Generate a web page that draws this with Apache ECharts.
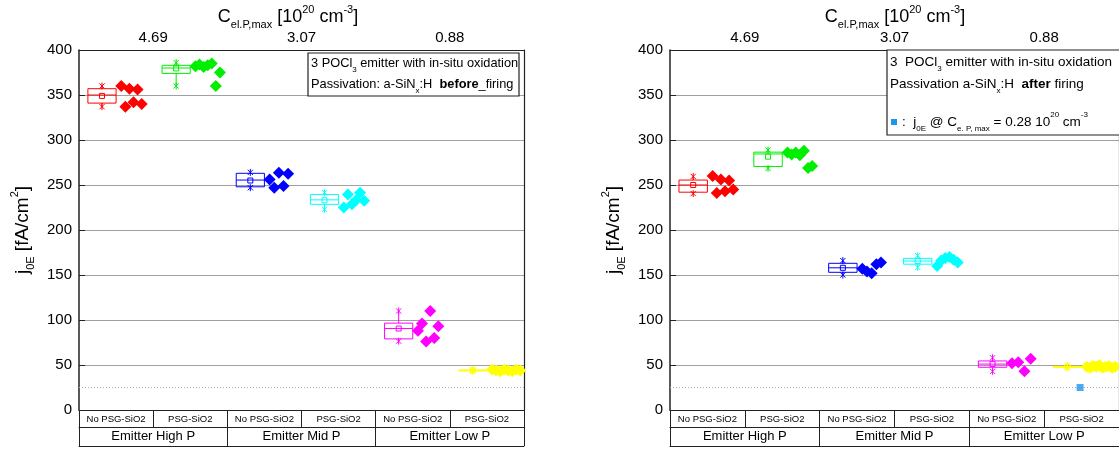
<!DOCTYPE html>
<html><head><meta charset="utf-8">
<script src="https://cdn.jsdelivr.net/npm/echarts@6/dist/echarts.min.js"></script>
<style>html,body{margin:0;padding:0;background:#fff}#c{width:1119px;height:450px}</style>
</head><body><div id="c"></div>
<script>
// ---------- DATA ----------
const subLabels = ['No PSG-SiO2', 'PSG-SiO2', 'No PSG-SiO2', 'PSG-SiO2', 'No PSG-SiO2', 'PSG-SiO2'];
const groupLabels = ['Emitter High P', 'Emitter Mid P', 'Emitter Low P'];
const topLabels = ['4.69', '3.07', '0.88'];
const yMin = 0, yMax = 400, yStep = 50;
const refLineValue = 25;

// Before firing: single measurements (ordered left to right as drawn)
const beforeHighNoPSG = [360, 337, 357, 342, 356, 340];
const beforeHighPSG = [382, 384, 381, 383, 385, 360, 375];
const beforeMidNoPSG = [256, 247, 263.5, 249, 262.5];
const beforeMidPSG = [225, 239.5, 228.5, 233, 241.5, 232.5];
const beforeLowNoPSG = [88, 96, 76, 110, 80, 93];
const beforeLowPSG = [45, 44, 43, 45, 44, 43, 45, 44];
// Before firing: box statistics per sub-category
const beforeMin = [337, 360, 247, 223, 76.5, 43];
const beforeQ1 = [341, 374, 248, 228.5, 79, 43.5];
const beforeMedian = [350, 380, 255.5, 233.5, 90.5, 44];
const beforeQ3 = [357, 383, 263, 239.5, 96.5, 44.5];
const beforeMax = [360, 386, 264, 241.5, 110, 45];
const beforeMean = [349, 379.5, 255, 233, 90.5, 44];

// After firing: single measurements
const afterHighNoPSG = [260, 241, 256, 243, 255, 245];
const afterHighPSG = [286, 284, 286, 283, 288, 269, 271];
const afterMidNoPSG = [157, 154, 152, 162, 164];
const afterMidPSG = [160, 166, 169, 170, 167, 164];
const afterLowNoPSG = [52, 53, 43, 57];
const afterLowPSG = [48, 47, 49, 48, 50, 47, 48, 49, 47, 48];
// After firing: box statistics
const afterMin = [240.5, 268.5, 150, 158.5, 43, 46.5];
const afterQ1 = [242, 270.5, 153, 162, 47.5, 47.5];
const afterMedian = [250, 284.5, 158, 165.5, 51, 48];
const afterQ3 = [255.5, 286.5, 163, 168.5, 54.5, 48.5];
const afterMax = [259.5, 289, 166, 171.5, 58, 49.5];
const afterMean = [250, 281.5, 158, 165.5, 51, 48];
// j0E at C = 0.28e20 cm-3 (after firing, Low P / PSG-SiO2)
const refPointCategory = 5;
const refPointValue = 25;

// ---------- STYLE / LAYOUT ----------
const FONT = "'Liberation Sans', Arial, sans-serif";
const COLORS = ['#ff0000', '#00ee00', '#0000ff', '#00ffff', '#ff00ff', '#ffff00'];
const BOX_L = 0.12, BOX_R = 0.50, PT_START = 0.57, REF_OFFSET = 0.48;
const AX = '#222';

const beforeSets = [beforeHighNoPSG, beforeHighPSG, beforeMidNoPSG, beforeMidPSG, beforeLowNoPSG, beforeLowPSG];
const afterSets = [afterHighNoPSG, afterHighPSG, afterMidNoPSG, afterMidPSG, afterLowNoPSG, afterLowPSG];
const beforeStats = [beforeMin, beforeQ1, beforeMedian, beforeQ3, beforeMax, beforeMean];
const afterStats = [afterMin, afterQ1, afterMedian, afterQ3, afterMax, afterMean];

function spread(values, cat) {
  const n = values.length;
  const span = Math.min(0.38, Math.max(0.25, 0.055 * (n - 1)));
  const step = n > 1 ? span / (n - 1) : 0;
  return values.map((v, i) => [cat + PT_START + i * step, v]);
}
function star(x, y, color) {
  const r = 3.5, d = r * 0.75;
  const st = { stroke: color, lineWidth: 1 };
  return { type: 'group', children: [
    { type: 'line', shape: { x1: x, y1: y - r, x2: x, y2: y + r }, style: st },
    { type: 'line', shape: { x1: x - d, y1: y - d, x2: x + d, y2: y + d }, style: st },
    { type: 'line', shape: { x1: x - d, y1: y + d, x2: x + d, y2: y - d }, style: st }
  ]};
}
function boxRender(params, api) {
  const c = api.value(0);
  const color = COLORS[c];
  const xl = api.coord([c + BOX_L, 0])[0];
  const xr = api.coord([c + BOX_R, 0])[0];
  const xm = (xl + xr) / 2;
  const py = i => api.coord([c, api.value(i)])[1];
  const yLo = py(1), yQ1 = py(2), yMed = py(3), yQ3 = py(4), yHi = py(5), yMean = py(6);
  const ls = { stroke: color, lineWidth: 1, fill: 'none' };
  return { type: 'group', children: [
    { type: 'rect', shape: { x: xl, y: yQ3, width: xr - xl, height: Math.max(yQ1 - yQ3, 1) }, style: ls },
    { type: 'line', shape: { x1: xl, y1: yMed, x2: xr, y2: yMed }, style: ls },
    { type: 'line', shape: { x1: xm, y1: yQ3, x2: xm, y2: yHi }, style: ls },
    { type: 'line', shape: { x1: xm, y1: yQ1, x2: xm, y2: yLo }, style: ls },
    { type: 'rect', shape: { x: xm - 2.5, y: yMean - 2.5, width: 5, height: 5 }, style: ls },
    star(xm, yHi, color), star(xm, yLo, color)
  ]};
}

const richSubSup = (base) => ({
  sub: { fontSize: Math.round(base * 0.6), lineHeight: 12, verticalAlign: 'bottom', fontFamily: FONT, fill: '#000', color: '#000' },
  sup: { fontSize: Math.round(base * 0.6), lineHeight: 12, verticalAlign: 'top', fontFamily: FONT, fill: '#000', color: '#000' },
  b: { fontSize: base, fontWeight: 'bold', fontFamily: FONT, fill: '#000', color: '#000' }
});

const xAxes = [], yAxes = [], series = [];
const grids = [
  { left: 79, top: 50, width: 445, height: 360 },
  { left: 670, top: 50, width: 450, height: 360 }
];
[0, 1].forEach(p => {
  const lineSt = { color: AX, width: 1.2 };
  xAxes.push(
    { type: 'value', gridIndex: p, min: 0, max: 6, show: false },
    { type: 'category', gridIndex: p, position: 'bottom', offset: 0, data: subLabels,
      axisLine: { show: true, onZero: false, lineStyle: lineSt },
      axisTick: { show: true, alignWithLabel: false, interval: 0, length: 17, lineStyle: { color: AX, width: 1 } },
      axisLabel: { interval: 0, margin: 4, fontSize: 9.5, color: '#000', fontFamily: FONT },
      splitLine: { show: false } },
    { type: 'category', gridIndex: p, position: 'bottom', offset: 17, data: groupLabels,
      axisLine: { show: true, onZero: false, lineStyle: { color: AX, width: 1 } },
      axisTick: { show: true, alignWithLabel: false, interval: 0, length: 19, lineStyle: { color: AX, width: 1 } },
      axisLabel: { interval: 0, margin: 3, fontSize: 13, color: '#000', fontFamily: FONT },
      splitLine: { show: false } },
    { type: 'category', gridIndex: p, position: 'bottom', offset: 36, data: groupLabels,
      axisLine: { show: true, onZero: false, lineStyle: { color: AX, width: 1 } },
      axisTick: { show: false }, axisLabel: { show: false }, splitLine: { show: false } },
    { type: 'category', gridIndex: p, position: 'top', data: topLabels,
      axisLine: { show: true, onZero: false, lineStyle: lineSt },
      axisTick: { show: false },
      axisLabel: { interval: 0, margin: 5, fontSize: 15, color: '#000', fontFamily: FONT },
      splitLine: { show: false } }
  );
  yAxes.push(
    { type: 'value', gridIndex: p, position: 'left', min: yMin, max: yMax, interval: yStep,
      axisLine: { show: true, onZero: false, lineStyle: { color: AX, width: 1.5 } },
      axisTick: { show: true, inside: true, length: 6, lineStyle: { color: AX, width: 1 } },
      axisLabel: { fontSize: 15, margin: 7, color: '#000', fontFamily: FONT },
      splitLine: { show: true, lineStyle: { color: '#a0a0a0', width: 1 } },
      name: 'j{sub|0E} [fA/cm{sup|2}]', nameLocation: 'middle', nameGap: 43,
      nameTextStyle: { fontSize: 19, color: '#000', fontFamily: FONT, lineHeight: 27, rich: richSubSup(19) } },
    { type: 'value', gridIndex: p, position: 'right', min: yMin, max: yMax, interval: yStep,
      axisLine: { show: true, onZero: false, lineStyle: lineSt },
      axisTick: { show: false }, axisLabel: { show: false }, splitLine: { show: false } }
  );
  const sets = p === 0 ? beforeSets : afterSets;
  const st = p === 0 ? beforeStats : afterStats;
  const xi = p * 5, yi = p * 2;
  series.push({
    type: 'custom', xAxisIndex: xi, yAxisIndex: yi, renderItem: boxRender, z: 3, silent: true,
    data: subLabels.map((_, c) => [c, st[0][c], st[1][c], st[2][c], st[3][c], st[4][c], st[5][c]]),
    encode: { x: 0, y: [1, 2, 3, 4, 5, 6] }
  });
  sets.forEach((vals, c) => {
    series.push({
      type: 'scatter', xAxisIndex: xi, yAxisIndex: yi, symbol: 'diamond', symbolSize: 12, z: 4,
      itemStyle: { color: COLORS[c], opacity: 1 }, data: spread(vals, c), silent: true,
      markLine: c === 0 ? { silent: true, symbol: 'none', label: { show: false },
        lineStyle: { color: '#b0b0b0', type: [1, 2], width: 1 }, data: [{ yAxis: refLineValue }] } : undefined
    });
  });
  if (p === 1) {
    series.push({ type: 'scatter', xAxisIndex: xi, yAxisIndex: yi, symbol: 'rect', symbolSize: 7, z: 5,
      itemStyle: { color: '#1e96eb' }, data: [[refPointCategory + REF_OFFSET, refPointValue]], silent: true });
  }
});

const richL = richSubSup(12.8);
const richR = richSubSup(13.5);
const titleRich = richSubSup(18);
const txt = (x, y, text, size, rich, align) => ({ type: 'text', x, y, z: 20,
  style: { text, fontSize: size, fontFamily: FONT, fill: '#000', align: align || 'left', verticalAlign: 'middle', lineHeight: size + 8, rich } });

const graphic = [
  txt(288, 17, 'C{sub|el.P,max} [10{sup|20} cm{sup|-3}]', 18, titleRich, 'center'),
  txt(895, 17, 'C{sub|el.P,max} [10{sup|20} cm{sup|-3}]', 18, titleRich, 'center'),
  { type: 'rect', z: 19, shape: { x: 308, y: 53, width: 211, height: 43 }, style: { fill: '#fff', stroke: AX, lineWidth: 1.2 } },
  txt(311, 63, '3 POCl{sub|3} emitter with in-situ oxidation', 12.8, richL),
  txt(311, 84, 'Passivation: a-SiN{sub|x}:H  {b|before}_firing', 12.8, richL),
  { type: 'rect', z: 19, shape: { x: 887, y: 50, width: 250, height: 85 }, style: { fill: '#fff', stroke: AX, lineWidth: 1.2 } },
  txt(890, 62, '3  POCl{sub|3} emitter with in-situ oxidation', 13.5, richR),
  txt(890, 84, 'Passivation a-SiN{sub|x}:H  {b|after} firing', 13.5, richR),
  { type: 'rect', z: 20, shape: { x: 891, y: 119, width: 6, height: 6 }, style: { fill: '#1e96eb' } },
  txt(902, 122, ':  j{sub|0E} @ C{sub|e. P, max} = 0.28 10{sup|20} cm{sup|-3}', 13.5, richR)
];

const chart = echarts.init(document.getElementById('c'), null, { renderer: 'canvas' });
chart.setOption({
  animation: false,
  backgroundColor: '#fff',
  grid: grids,
  xAxis: xAxes,
  yAxis: yAxes,
  series,
  graphic
});
</script></body></html>
